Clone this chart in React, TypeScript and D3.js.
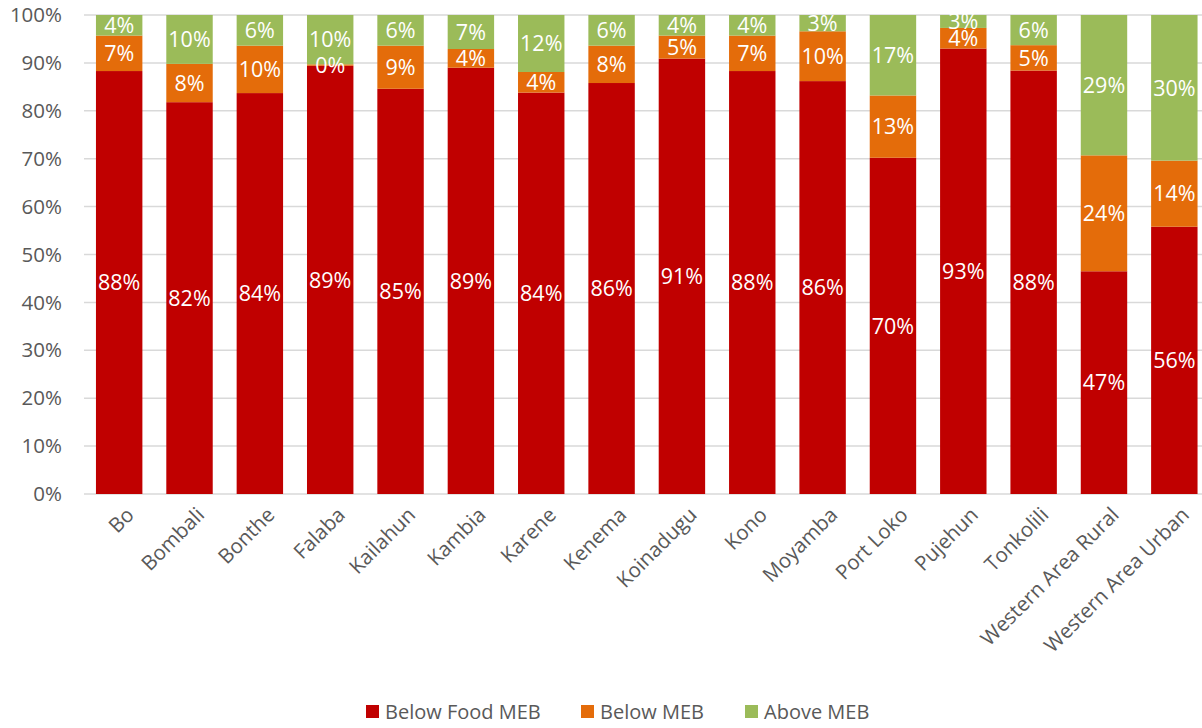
import React from "react";
import * as d3 from "d3";

const categories = ["Bo","Bombali","Bonthe","Falaba","Kailahun","Kambia","Karene","Kenema","Koinadugu","Kono","Moyamba","Port Loko","Pujehun","Tonkolili","Western Area Rural","Western Area Urban"];
const belowFoodMEB = [88.3,81.8,83.7,89.4,84.6,89.0,83.8,85.8,90.9,88.3,86.2,70.2,93.0,88.4,46.5,55.8];
const belowMEB =     [7.4,8.0,9.9,0.3,9.0,3.9,4.3,7.8,4.8,7.4,10.4,13.0,4.3,5.3,24.2,13.8];
const aboveMEB =     [4.3,10.2,6.4,10.3,6.4,7.1,11.9,6.4,4.3,4.3,3.4,16.8,2.7,6.3,29.3,30.4];
const seriesNames = ["Below Food MEB","Below MEB","Above MEB"];
const seriesColors = ["#C00000","#E46C0A","#9BBB59"];
const yTicks = [0,10,20,30,40,50,60,70,80,90,100];

export default function App() {
  const W = 1202, H = 728;
  const left = 84, right = 1209.5, top = 15, bottom = 494;
  const x = d3.scaleBand<string>().domain(categories).range([left, right]).paddingInner(0.34).paddingOuter(0.17);
  const y = d3.scaleLinear().domain([0, 100]).range([bottom, top]);
  const rows = categories.map((c, i) => ({ cat: c, s0: belowFoodMEB[i], s1: belowMEB[i], s2: aboveMEB[i] }));
  const stack = d3.stack<any>().keys(["s0","s1","s2"])(rows);
  const font = "'Open Sans', sans-serif";
  const gray = "#595959";
  const legendX = [366, 581, 745];
  return (
    <svg width={W} height={H} style={{ position: "absolute", left: 0, top: 0, background: "#fff" }}>
      {yTicks.map(t => (
        <g key={t}>
          <line x1={left} x2={W} y1={y(t)} y2={y(t)} stroke="#D9D9D9" strokeWidth={1.5} />
          <text x={62} y={y(t)} dy="0.35em" textAnchor="end" fontFamily={font} fontSize={20.5} fill={gray}>{t}%</text>
        </g>
      ))}
      {stack.map((layer, si) => (
        <g key={si}>
          {layer.map((d, i) => (
            <rect key={i} x={x(categories[i])} width={x.bandwidth()} y={y(d[1])} height={y(d[0]) - y(d[1])} fill={seriesColors[si]} />
          ))}
        </g>
      ))}
      {stack.map((layer, si) => (
        <g key={"l" + si}>
          {layer.map((d, i) => (
            <text key={i} x={(x(categories[i]) as number) + x.bandwidth() / 2} y={(y(d[0]) + y(d[1])) / 2} dy="0.36em" textAnchor="middle" fontFamily={font} fontSize={21.5} fill="#fff">
              {Math.round(d[1] - d[0])}%
            </text>
          ))}
        </g>
      ))}
      {categories.map(c => {
        const cx = (x(c) as number) + x.bandwidth() / 2;
        return (
          <text key={c} transform={`translate(${cx + 6},${bottom + 12}) rotate(-45)`} textAnchor="end" dy="0.7em" fontFamily={font} fontSize={20.5} fill={gray}>{c}</text>
        );
      })}
      {seriesNames.map((n, i) => (
        <g key={n}>
          <rect x={legendX[i]} y={705} width={13} height={13} fill={seriesColors[i]} />
          <text x={legendX[i] + 19} y={712} dy="0.35em" fontFamily={font} fontSize={20} fill={gray}>{n}</text>
        </g>
      ))}
    </svg>
  );
}
